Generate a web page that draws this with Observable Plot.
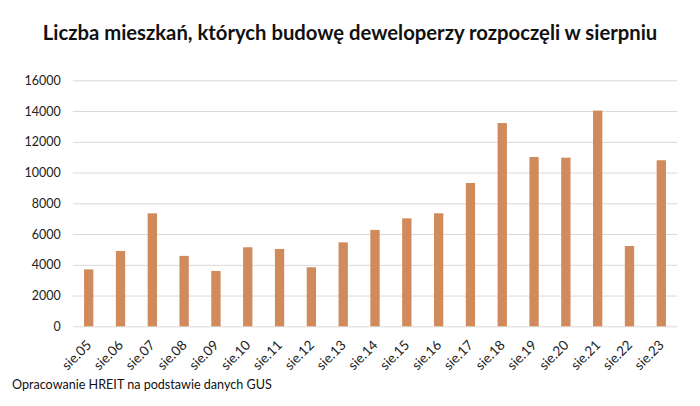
<!DOCTYPE html>
<html>
<head>
<meta charset="utf-8">
<script src="https://cdn.jsdelivr.net/npm/d3@7"></script>
<script src="https://cdn.jsdelivr.net/npm/@observablehq/plot@0.6"></script>
<style>
  html, body { margin: 0; padding: 0; background: #fff; }
  body { width: 700px; height: 406px; position: relative; overflow: hidden; font-family: Lato, "Open Sans", sans-serif; }
  #title { position: absolute; left: 0; top: 20px; width: 700px; text-align: center; font-weight: 700; font-size: 19px; color: #111; white-space: nowrap; }
  #title span { display: inline-block; }
  #chart { position: absolute; left: 0; top: 60px; }
  #caption { position: absolute; left: 12px; top: 377px; font-size: 12.5px; color: #111; white-space: nowrap; }
</style>
</head>
<body>
<div id="title"><span>Liczba mieszkań, których budowę deweloperzy rozpoczęli w sierpniu</span></div>
<div id="chart"></div>
<div id="caption"><span>Opracowanie HREIT na podstawie danych GUS</span></div>
<script>
const months = ["sie.05","sie.06","sie.07","sie.08","sie.09","sie.10","sie.11","sie.12","sie.13","sie.14","sie.15","sie.16","sie.17","sie.18","sie.19","sie.20","sie.21","sie.22","sie.23"];
const values = [3700, 4900, 7350, 4580, 3600, 5140, 5030, 3840, 5460, 6270, 7020, 7350, 9320, 13220, 11010, 10970, 14030, 5220, 10800];
const yTicks = [0, 2000, 4000, 6000, 8000, 10000, 12000, 14000, 16000];

const data = months.map((m, i) => ({month: m, value: values[i]}));

const chart = Plot.plot({
  width: 700,
  height: 316,
  marginTop: 20.3,
  marginBottom: 49.7,
  marginLeft: 72.8,
  marginRight: 22.8,
  style: { fontFamily: "Lato, 'Open Sans', sans-serif", fontSize: "12px", color: "#333", background: "transparent", overflow: "visible" },
  x: { domain: months, padding: 0, round: false, label: null },
  y: { domain: [0, 16000], ticks: yTicks, label: null },
  marks: [
    Plot.gridY(yTicks, { stroke: "#d9d9d9", strokeOpacity: 1, strokeWidth: 1 }),
    Plot.barY(data, { x: "month", y: "value", fill: "#d08a5b", insetLeft: 11.25, insetRight: 11.25 }),
    Plot.axisY(yTicks, { tickSize: 0, tickPadding: 12.5, tickFormat: d => String(d), fontSize: 12.5, fill: "#222", label: null }),
    Plot.axisX({ tickSize: 0, tickRotate: -45, tickPadding: 16, dx: 0, fontSize: 13.5, fill: "#222", label: null })
  ]
});
document.getElementById("chart").appendChild(chart);

function fit(sel, target) {
  const el = document.querySelector(sel);
  const w = el.getBoundingClientRect().width;
  const fs = parseFloat(getComputedStyle(el).fontSize);
  el.style.fontSize = (fs * target / w) + "px";
}
fit("#title span", 615);
fit("#caption span", 260);
</script>
</body>
</html>
